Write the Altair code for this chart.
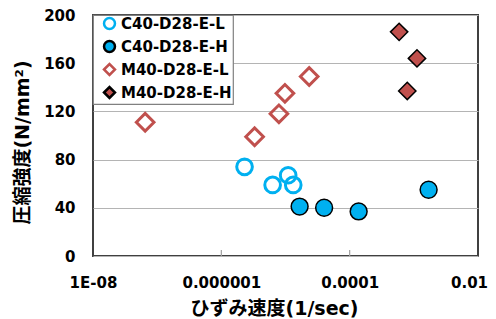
import altair as alt
import pandas as pd

series_names = ["C40-D28-E-L", "C40-D28-E-H", "M40-D28-E-L", "M40-D28-E-H"]

c40_l_x = [2.3e-6, 6.3e-6, 1.1e-5, 1.32e-5]
c40_l_y = [74, 59, 67, 59]
c40_h_x = [1.66e-5, 4.0e-5, 1.38e-4, 1.7e-3]
c40_h_y = [41, 40, 37, 55]
m40_l_x = [6.5e-8, 3.3e-6, 7.9e-6, 9.8e-6, 2.34e-5]
m40_l_y = [111, 99, 118, 135, 149]
m40_h_x = [5.9e-4, 1.12e-3, 7.9e-4]
m40_h_y = [186, 164, 137]

x_ticks = [1e-8, 1e-6, 1e-4, 1e-2]
x_tick_labels = ["1E-08", "0.000001", "0.0001", "0.01"]
y_ticks = [0, 40, 80, 120, 160, 200]
inner_ticks = [1e-6, 1e-4]

rows = []
for name, xs, ys in [
    (series_names[0], c40_l_x, c40_l_y),
    (series_names[1], c40_h_x, c40_h_y),
    (series_names[2], m40_l_x, m40_l_y),
    (series_names[3], m40_h_x, m40_h_y),
]:
    for xv, yv in zip(xs, ys):
        rows.append({"series": name, "rate": xv, "strength": yv})
df = pd.DataFrame(rows)

LFONT = "DejaVu Sans"
TFONT = "DejaVu Sans, Noto Sans CJK JP"
label_expr = " : ".join(
    f"datum.value < {v*1.5:g} ? '{l}'" for v, l in zip(x_ticks[:-1], x_tick_labels[:-1])
) + f" : '{x_tick_labels[-1]}'"

xscale = alt.Scale(type="log", domain=[1e-8, 1e-2], nice=False)
x_enc = alt.X(
    "rate:Q",
    scale=xscale,
    axis=alt.Axis(
        title="ひずみ速度(1/sec)",
        values=x_ticks,
        labelExpr=label_expr,
        grid=False,
        domain=False,
        ticks=False,
        labelFlush=False,
        labelOverlap=False,
        labelPadding=19,
        labelOffset={"expr": "datum.value > 0.005 ? -9 : 0"},
        titlePadding=9,
        titleX=181,
    ),
)
y_enc = alt.Y(
    "strength:Q",
    scale=alt.Scale(domain=[0, 200], nice=False),
    axis=alt.Axis(
        title="圧縮強度(N/mm²)",
        values=y_ticks,
        grid=True,
        gridColor="#b4b4b4",
        gridWidth=1.2,
        domain=False,
        ticks=False,
        labelPadding=18,
        titlePadding=11,
        titleY=127,
    ),
)

legend_def = alt.Legend(
    title=None,
    strokeColor="gray",
    fillColor="white",
    labelExpr="datum.label + '\u00a0\u00a0'",
)
shape_enc = alt.Shape(
    "series:N",
    scale=alt.Scale(domain=series_names, range=["circle", "circle", "diamond", "diamond"]),
    legend=legend_def,
)
fill_enc = alt.Fill(
    "series:N",
    scale=alt.Scale(domain=series_names, range=["transparent", "#00B0F0", "transparent", "#C0504D"]),
    legend=legend_def,
)
stroke_enc = alt.Stroke(
    "series:N",
    scale=alt.Scale(domain=series_names, range=["#00B0F0", "#000000", "#C0504D", "#000000"]),
    legend=legend_def,
)

base = alt.Chart(df).encode(x=x_enc, y=y_enc, shape=shape_enc, fill=fill_enc, stroke=stroke_enc)
styles = {
    series_names[0]: dict(strokeWidth=3, size=245),
    series_names[1]: dict(strokeWidth=1.5, size=285),
    series_names[2]: dict(strokeWidth=3, size=310),
    series_names[3]: dict(strokeWidth=1.5, size=300),
}
layers = [
    base.transform_filter(alt.datum.series == name).mark_point(opacity=1, **st)
    for name, st in styles.items()
]

tick_df = pd.DataFrame({"rate": inner_ticks})
inner = alt.Chart(tick_df).mark_rule(color="#a0a0a0", strokeWidth=1.2).encode(
    x=alt.X("rate:Q", scale=xscale),
    y=alt.value(241),
    y2=alt.value(235),
)

chart = (
    alt.layer(inner, *layers)
    .properties(
        width=385,
        height=241,
        autosize=alt.AutoSizeParams(type="none"),
        padding={"left": 85, "top": 7, "right": 10, "bottom": 63},
    )
    .configure_view(stroke="#404040", strokeWidth=2)
    .configure_axis(
        labelFont=LFONT,
        titleFont=TFONT,
        labelFontSize=15,
        titleFontSize=19,
        labelFontWeight="bold",
        titleFontWeight="bold",
        labelColor="#000000",
        titleColor="#000000",
    )
    .configure_legend(
        orient="top-left",
        offset=0,
        padding=1,
        symbolOffset=8,
        strokeColor="gray",
        strokeWidth=1.2,
        fillColor="white",
        labelFont=LFONT,
        labelFontSize=15,
        labelFontWeight="bold",
        labelColor="#000000",
        symbolSize=120,
        symbolStrokeWidth=2.5,
        rowPadding=2,
        labelOffset=4,
        cornerRadius=0,
    )
)

chart.save("out.html", embed_options={"renderer": "svg", "actions": False})
